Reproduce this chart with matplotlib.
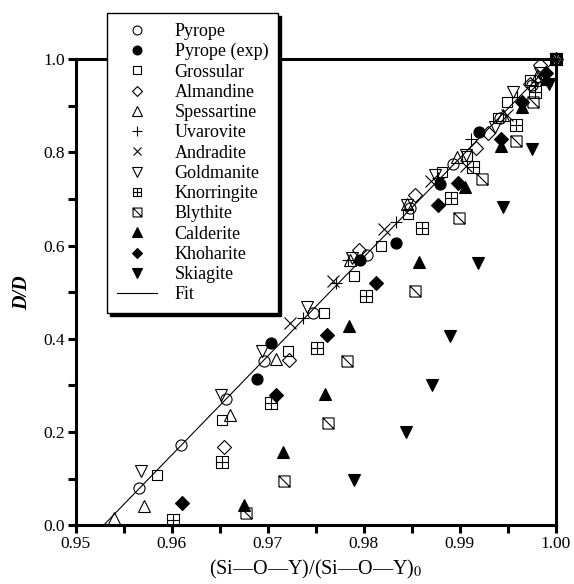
import numpy as np
import matplotlib
matplotlib.use("Agg")
import matplotlib.pyplot as plt
from matplotlib.path import Path

plt.rcParams['font.family'] = ['Liberation Serif', 'DejaVu Serif']
plt.rcParams['mathtext.fontset'] = 'stix'

# bond-ratio (x) vs D/D (y) for each garnet end-member
pyrope_x = [0.95663, 0.96097, 0.96563, 0.96965, 0.97469, 0.9803, 0.9848, 0.9893, 0.9942, 0.9975, 1.0]
pyrope_y = [0.079, 0.172, 0.270, 0.353, 0.455, 0.58, 0.68, 0.775, 0.875, 0.945, 1.0]

pyrope_exp_x = [0.96885, 0.97034, 0.97961, 0.98337, 0.98795, 0.9920]
pyrope_exp_y = [0.315, 0.391, 0.569, 0.605, 0.732, 0.845]

grossular_x = [0.95844, 0.9652, 0.97215, 0.9759, 0.97902, 0.9818, 0.98458, 0.98813, 0.99075, 0.99398, 0.99496, 0.99732, 1.0]
grossular_y = [0.108, 0.226, 0.373, 0.455, 0.534, 0.600, 0.668, 0.759, 0.792, 0.873, 0.909, 0.956, 1.0]

almandine_x = [0.96545, 0.97222, 0.97951, 0.98534, 0.99166, 0.99294, 0.99732, 0.99837, 1.0]
almandine_y = [0.167, 0.355, 0.591, 0.709, 0.809, 0.841, 0.948, 0.988, 1.0]

spessartine_x = [0.95400, 0.95715, 0.96607, 0.97086, 0.97857, 0.9845, 0.9897, 0.9945, 0.9980, 1.0]
spessartine_y = [0.015, 0.042, 0.237, 0.356, 0.569, 0.69, 0.79, 0.88, 0.965, 1.0]

uvarovite_x = [0.97371, 0.97711, 0.97833, 0.98337, 0.9877, 0.9912, 0.9960, 1.0]
uvarovite_y = [0.444, 0.519, 0.569, 0.651, 0.745, 0.83, 0.92, 1.0]

andradite_x = [0.97232, 0.97683, 0.98215, 0.98701, 0.9907, 0.99489, 0.9985, 1.0]
andradite_y = [0.435, 0.525, 0.636, 0.739, 0.770, 0.880, 0.955, 1.0]

goldmanite_x = [0.95677, 0.96514, 0.96938, 0.97406, 0.97875, 0.98448, 0.98743, 0.9907, 0.99364, 0.99558, 0.99837, 1.0]
goldmanite_y = [0.117, 0.280, 0.373, 0.469, 0.573, 0.687, 0.752, 0.795, 0.855, 0.930, 0.970, 1.0]

knorringite_x = [0.9601, 0.9652, 0.97034, 0.9751, 0.98024, 0.98604, 0.98909, 0.99142, 0.99582, 0.99784, 1.0]
knorringite_y = [0.011, 0.136, 0.262, 0.381, 0.491, 0.639, 0.703, 0.769, 0.859, 0.930, 1.0]

blythite_x = [0.96771, 0.9717, 0.97632, 0.97823, 0.98534, 0.98997, 0.99229, 0.9959, 0.99767, 1.0]
blythite_y = [0.026, 0.095, 0.220, 0.353, 0.503, 0.659, 0.743, 0.825, 0.909, 1.0]

calderite_x = [0.96757, 0.97163, 0.97597, 0.97844, 0.98579, 0.99055, 0.99426, 0.99652, 0.9990]
calderite_y = [0.043, 0.158, 0.282, 0.428, 0.564, 0.727, 0.814, 0.898, 0.957]

khoharite_x = [0.96104, 0.97086, 0.97615, 0.98125, 0.98771, 0.98986, 0.99433, 0.99646, 0.99899]
khoharite_y = [0.047, 0.280, 0.408, 0.521, 0.687, 0.734, 0.828, 0.909, 0.970]

skiagite_x = [0.97904, 0.98437, 0.98715, 0.98899, 0.99188, 0.99448, 0.99756, 0.99933]
skiagite_y = [0.097, 0.201, 0.301, 0.406, 0.562, 0.684, 0.807, 0.947]

fit_x = [0.9529, 1.0]
fit_y = [0.0, 1.0]

# square markers with a cross / a diagonal inside
M, L = Path.MOVETO, Path.LINETO
sq = [(-1, -1), (1, -1), (1, 1), (-1, 1), (-1, -1)]
sq_codes = [M, L, L, L, L]
box_plus = Path(sq + [(-1, 0), (1, 0), (0, -1), (0, 1)], sq_codes + [M, L, M, L])
box_diag = Path(sq + [(-1, 1), (1, -1)], sq_codes + [M, L])

series = [
    ("Pyrope", pyrope_x, pyrope_y, 'o', False),
    ("Pyrope (exp)", pyrope_exp_x, pyrope_exp_y, 'o', True),
    ("Grossular", grossular_x, grossular_y, 's', False),
    ("Almandine", almandine_x, almandine_y, 'D', False),
    ("Spessartine", spessartine_x, spessartine_y, '^', False),
    ("Uvarovite", uvarovite_x, uvarovite_y, '+', False),
    ("Andradite", andradite_x, andradite_y, 'x', False),
    ("Goldmanite", goldmanite_x, goldmanite_y, 'v', False),
    ("Knorringite", knorringite_x, knorringite_y, box_plus, False),
    ("Blythite", blythite_x, blythite_y, box_diag, False),
    ("Calderite", calderite_x, calderite_y, '^', True),
    ("Khoharite", khoharite_x, khoharite_y, 'D', True),
    ("Skiagite", skiagite_x, skiagite_y, 'v', True),
]

sizes = {'o': 8, 's': 7.5, 'D': 7, '^': 8.5, 'v': 8.5, '+': 9, 'x': 8}

fig = plt.figure(figsize=(5.74, 5.84), dpi=100)
ax = fig.add_axes([75.7 / 574, 1 - 525.3 / 584, 480 / 574, 466 / 584])

n = len(series)
for i, (name, xs, ys, mk, filled) in enumerate(series):
    ms = sizes.get(mk, 8) if isinstance(mk, str) else 8
    ax.plot(xs, ys, linestyle='none', marker=mk, markersize=ms,
            markerfacecolor='black' if filled else 'none',
            markeredgecolor='black', markeredgewidth=0.8,
            label=name, clip_on=False, zorder=3 + (n - i) * 0.01 + (0 if filled else 0.5))

ax.plot(fit_x, fit_y, color='black', linewidth=0.8, label='Fit', zorder=2)

ax.set_xlim(0.95, 1.0)
ax.set_ylim(0.0, 1.0)
ax.set_xticks(np.arange(0.95, 1.0001, 0.01))
ax.set_xticks(np.arange(0.955, 1.0, 0.01), minor=True)
ax.set_yticks(np.arange(0.0, 1.0001, 0.2))
ax.set_yticks(np.arange(0.1, 1.0, 0.2), minor=True)
ax.xaxis.set_major_formatter(plt.FuncFormatter(lambda v, p: f"{v:.2f}"))
ax.yaxis.set_major_formatter(plt.FuncFormatter(lambda v, p: f"{v:.1f}"))
ax.tick_params(which='major', direction='out', length=6, width=2.2, labelsize=12.5, pad=2)
ax.tick_params(which='minor', direction='out', length=6, width=2.2)
ax.tick_params(top=False, right=False)
for sp in ax.spines.values():
    sp.set_linewidth(2.2)

ax.set_xlabel('(Si—O—Y)/(Si—O—Y)$_0$', fontsize=14.5, labelpad=4)
ax.set_ylabel('D/D', fontsize=14.5, fontstyle='italic', fontweight='bold', labelpad=8)

leg = ax.legend(loc='upper left', bbox_to_anchor=(107 / 574, 1 - 13 / 584),
                bbox_transform=fig.transFigure, frameon=True, fancybox=False,
                shadow={'color': 'black', 'alpha': 1.0}, fontsize=13,
                labelspacing=0.18, handlelength=2.2, handletextpad=1.0,
                borderpad=0.55, borderaxespad=0, markerscale=0.8)
leg.get_frame().set_edgecolor('black')
leg.get_frame().set_linewidth(1.0)
leg.get_frame().set_alpha(1.0)
leg.get_frame().set_facecolor('white')

fig.savefig('out.png', dpi=100)
